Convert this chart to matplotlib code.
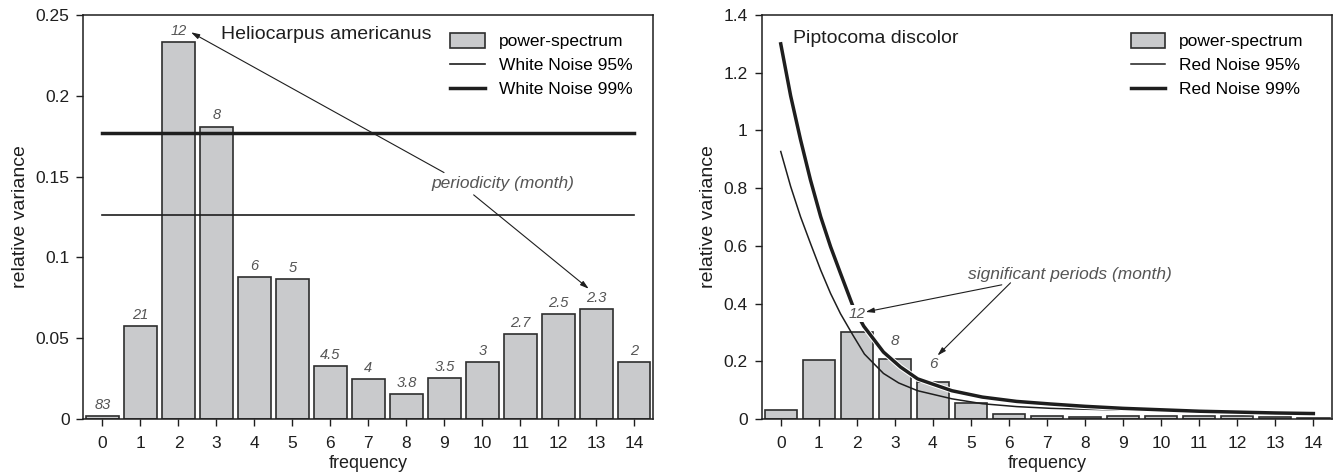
import matplotlib
matplotlib.use("Agg")
import matplotlib.pyplot as plt
import matplotlib.patheffects as pe
from matplotlib.ticker import FuncFormatter
import numpy as np

plt.rcParams["font.family"] = ["Liberation Sans", "DejaVu Sans"]

freq = np.arange(15)

# Heliocarpus americanus
helio_var = [0.002, 0.0575, 0.233, 0.181, 0.0876, 0.0868, 0.0328, 0.0245,
             0.0155, 0.0254, 0.0352, 0.0528, 0.0647, 0.068, 0.0354]
helio_period = ["83", "21", "12", "8", "6", "5", "4.5", "4", "3.8", "3.5",
                "3", "2.7", "2.5", "2.3", "2"]
white_95 = 0.1263
white_99 = 0.177

# Piptocoma discolor
pipto_var = [0.032, 0.206, 0.302, 0.208, 0.127, 0.055, 0.018, 0.009,
             0.008, 0.010, 0.011, 0.010, 0.009, 0.007, 0.005]
red99_f = [0, 0.26, 0.52, 0.78, 1.05, 1.31, 1.57, 1.9, 2.18, 2.7, 3.15,
           3.6, 4.5, 5.3, 6.2, 7.1, 8, 9, 10, 11, 12, 13, 14]
red99_v = [1.30, 1.12, 0.968, 0.829, 0.701, 0.597, 0.505, 0.39, 0.322,
           0.232, 0.18, 0.139, 0.098, 0.076, 0.061, 0.052, 0.044, 0.037,
           0.032, 0.027, 0.024, 0.021, 0.019]
red95_f = [0, 0.26, 0.52, 0.78, 1.05, 1.31, 1.57, 1.9, 2.2, 2.7, 3.1,
           3.6, 4.5, 5.3, 6.2, 7.1, 8, 9, 10, 11, 12, 13, 14]
red95_v = [0.927, 0.806, 0.701, 0.609, 0.516, 0.435, 0.365, 0.29, 0.225,
           0.158, 0.125, 0.098, 0.070, 0.053, 0.043, 0.037, 0.034, 0.031,
           0.029, 0.027, 0.026, 0.025, 0.024]
pipto_sig = {2: "12", 3: "8", 4: "6"}

BAR_FC = "#c9cacc"
BAR_EC = "#2e2e2e"
INK = "#1e1e1e"
LABEL_GRAY = "#555555"

fig = plt.figure(figsize=(13.38, 4.76), dpi=100)
ax1 = fig.add_axes([0.0624, 0.1197, 0.4259, 0.8488])
ax2 = fig.add_axes([0.5693, 0.1197, 0.4265, 0.8488])


def style_axis(ax, ymax, ystep):
    ax.set_xlim(-0.5, 14.5)
    ax.set_ylim(0, ymax)
    ax.set_xticks(freq)
    ax.set_yticks(np.arange(0, ymax + ystep / 2, ystep))
    ax.yaxis.set_major_formatter(FuncFormatter(lambda v, p: "%g" % round(v, 4)))
    ax.tick_params(direction="out", length=5, width=1, labelsize=12.5,
                   colors=INK, pad=5)
    ax.tick_params(axis="x", pad=7)
    for s in ax.spines.values():
        s.set_linewidth(1.1)
        s.set_color(INK)
    ax.set_xlabel("frequency", fontsize=13, color=INK, labelpad=3)
    ax.set_ylabel("relative variance", fontsize=14, color=INK, labelpad=5)


def arrow(ax, start, end):
    ax.annotate("", xy=end, xytext=start, zorder=6,
                arrowprops=dict(arrowstyle="-|>,head_length=0.5,head_width=0.15",
                                color=INK, lw=0.8, shrinkA=0, shrinkB=0))


def add_legend(ax, anchor_x):
    h, l = ax.get_legend_handles_labels()
    order = [2, 0, 1]
    ax.legend([h[i] for i in order], [l[i] for i in order], loc="upper right",
              bbox_to_anchor=(anchor_x, 0.972), frameon=False, fontsize=12.5,
              handlelength=2.0, handleheight=0.9, handletextpad=0.8,
              labelspacing=0.45, borderaxespad=0)


# left panel
ax1.bar(freq, helio_var, width=0.85, color=BAR_FC, edgecolor=BAR_EC,
        linewidth=1.2, zorder=2, label="power-spectrum")
ax1.plot([0, 14], [white_95, white_95], color=INK, lw=1.2, zorder=3,
         label="White Noise 95%")
ax1.plot([0, 14], [white_99, white_99], color=INK, lw=2.5, zorder=3,
         label="White Noise 99%")
for f, v, p in zip(freq, helio_var, helio_period):
    ax1.annotate(p, (f, v), xytext=(0, 3), textcoords="offset points",
                 ha="center", va="bottom", fontsize=10.5, style="italic",
                 color=LABEL_GRAY, zorder=5)
ax1.text(3.13, 0.238, "Heliocarpus americanus", fontsize=14, color=INK,
         ha="left", va="center")
ax1.text(10.55, 0.146, "periodicity (month)", fontsize=12.5, style="italic",
         color=LABEL_GRAY, ha="center", va="center")
arrow(ax1, (8.99, 0.1525), (2.33, 0.2393))
arrow(ax1, (9.77, 0.1387), (12.8, 0.0806))
style_axis(ax1, 0.25, 0.05)
add_legend(ax1, 0.976)

# right panel
ax2.bar(freq, pipto_var, width=0.85, color=BAR_FC, edgecolor=BAR_EC,
        linewidth=1.2, zorder=2, label="power-spectrum")
ax2.plot(red95_f, red95_v, color=INK, lw=1.1, zorder=3, label="Red Noise 95%")
ax2.plot(red99_f, red99_v, color=INK, lw=2.5, zorder=3, label="Red Noise 99%",
         path_effects=[pe.Stroke(linewidth=4, foreground="white"), pe.Normal()])
for f, p in pipto_sig.items():
    txt = ax2.annotate(p, (f, pipto_var[f]), xytext=(0, 8),
                       textcoords="offset points", ha="center", va="bottom",
                       fontsize=11, style="italic", color=LABEL_GRAY, zorder=5)
    if p == "12":
        txt.set_bbox(dict(facecolor="white", edgecolor="none", pad=1))
ax2.text(0.33, 1.318, "Piptocoma discolor", fontsize=14, color=INK,
         ha="left", va="center")
ax2.text(7.6, 0.5, "significant periods (month)", fontsize=12.5, style="italic",
         color=LABEL_GRAY, ha="center", va="center")
arrow(ax2, (5.81, 0.465), (2.23, 0.371))
arrow(ax2, (6.04, 0.472), (4.12, 0.22))
style_axis(ax2, 1.4, 0.2)
add_legend(ax2, 0.962)

fig.savefig("out.png", dpi=100)
